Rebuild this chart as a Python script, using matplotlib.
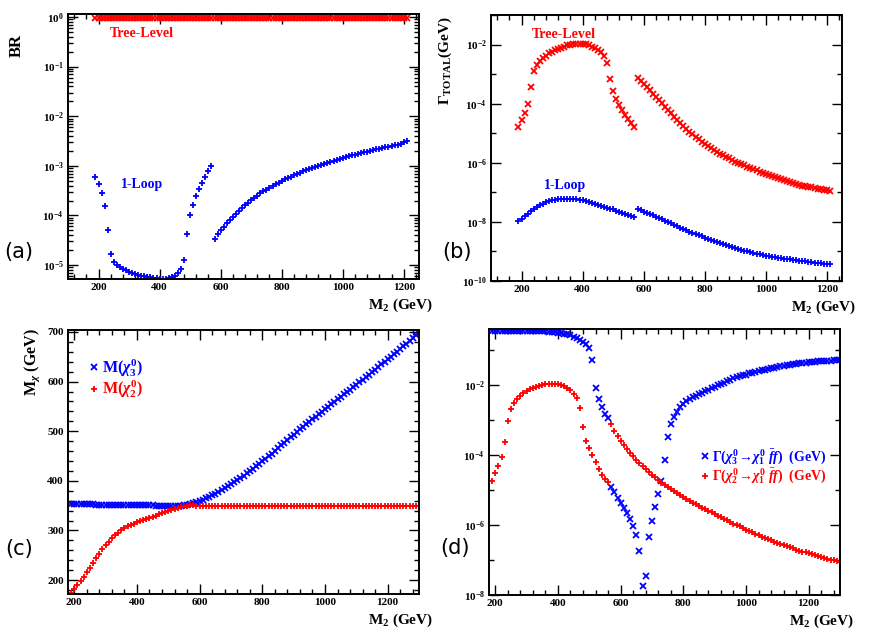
import numpy as np
import matplotlib
matplotlib.use("Agg")
import matplotlib.pyplot as plt
from matplotlib.ticker import (MultipleLocator, LogLocator, FixedLocator,
                               FuncFormatter, NullFormatter)

plt.rcParams['font.family'] = ['Liberation Serif', 'DejaVu Serif']
plt.rcParams['font.weight'] = 'bold'
plt.rcParams['mathtext.fontset'] = 'custom'
plt.rcParams['mathtext.rm'] = 'Liberation Serif:bold'
plt.rcParams['mathtext.it'] = 'Liberation Serif:italic:bold'
plt.rcParams['mathtext.bf'] = 'Liberation Serif:bold'

RED = '#ff0000'
BLUE = '#0000ff'

# M2 grids (GeV)
m2_ab = np.arange(190, 1220, 10)
m2_cd = np.arange(190, 1310, 10)

# (a) branching ratio, tree level and 1-loop (1-loop stored as log10)
br_tree = [
    0.97, 0.97, 0.97, 0.97, 0.97, 0.97, 0.97, 0.97, 0.97, 0.97, 0.97, 0.97, 0.97,
    0.97, 0.97, 0.97, 0.97, 0.97, 0.97, 0.97, 0.97, 0.97, 0.97, 0.97, 0.97, 0.97,
    0.97, 0.97, 0.97, 0.97, 0.97, 0.97, 0.97, 0.97, 0.97, 0.97, 0.97, 0.97, 0.97,
    0.97, 0.97, 0.97, 0.97, 0.97, 0.97, 0.97, 0.97, 0.97, 0.97, 0.97, 0.97, 0.97,
    0.97, 0.97, 0.97, 0.97, 0.97, 0.97, 0.97, 0.97, 0.97, 0.97, 0.97, 0.97, 0.97,
    0.97, 0.97, 0.97, 0.97, 0.97, 0.97, 0.97, 0.97, 0.97, 0.97, 0.97, 0.97, 0.97,
    0.97, 0.97, 0.97, 0.97, 0.97, 0.97, 0.97, 0.97, 0.97, 0.97, 0.97, 0.97, 0.97,
    0.97, 0.97, 0.97, 0.97, 0.97, 0.97, 0.97, 0.97, 0.97, 0.97, 0.97, 0.97]
br_loop_log = [
    -3.23, -3.37, -3.55, -3.81, -4.29, -4.78, -4.93, -5.00, -5.03, -5.07,
    -5.10, -5.13, -5.15, -5.17, -5.19, -5.21, -5.22, -5.23, -5.24, -5.25,
    -5.26, -5.27, -5.27, -5.27, -5.26, -5.24, -5.21, -5.16, -5.08, -4.89,
    -4.38, -4.00, -3.78, -3.61, -3.46, -3.34, -3.22, -3.11, -3.00,
    -4.48, -4.38, -4.30, -4.23, -4.16, -4.09, -4.03, -3.96, -3.90, -3.85,
    -3.79, -3.74, -3.69, -3.64, -3.60, -3.55, -3.51, -3.48, -3.44, -3.40,
    -3.37, -3.34, -3.30, -3.27, -3.24, -3.22, -3.19, -3.16, -3.14, -3.11,
    -3.09, -3.06, -3.04, -3.02, -3.00, -2.98, -2.96, -2.94, -2.92, -2.90,
    -2.88, -2.86, -2.84, -2.83, -2.81, -2.79, -2.78, -2.76, -2.75, -2.73,
    -2.72, -2.70, -2.69, -2.67, -2.66, -2.64, -2.63, -2.61, -2.60, -2.58,
    -2.57, -2.55, -2.52, -2.50]

# (b) total width (GeV), log10
gam_tree_log = [
    -4.78, -4.56, -4.31, -4.01, -3.44, -2.90, -2.68, -2.55, -2.45, -2.37,
    -2.30, -2.25, -2.19, -2.15, -2.10, -2.07, -2.03, -2.01, -1.99, -1.98,
    -1.97, -1.98, -1.99, -2.02, -2.07, -2.12, -2.18, -2.26, -2.40, -2.61,
    -3.16, -3.57, -3.84, -4.04, -4.22, -4.38, -4.52, -4.67, -4.80,
    -3.12, -3.22, -3.33, -3.44, -3.55, -3.66, -3.77, -3.88, -3.99, -4.10,
    -4.22, -4.33, -4.44, -4.54, -4.65, -4.75, -4.85, -4.95, -5.04, -5.13,
    -5.21, -5.29, -5.37, -5.44, -5.50, -5.57, -5.63, -5.69, -5.74, -5.80,
    -5.85, -5.90, -5.96, -6.01, -6.05, -6.09, -6.14, -6.18, -6.22, -6.26,
    -6.30, -6.34, -6.38, -6.42, -6.46, -6.49, -6.52, -6.56, -6.59, -6.62,
    -6.65, -6.68, -6.71, -6.74, -6.77, -6.79, -6.81, -6.83, -6.85, -6.87,
    -6.89, -6.91, -6.93, -6.95]
gam_loop_log = [
    -7.98, -7.90, -7.80, -7.72, -7.64, -7.56, -7.49, -7.43, -7.38, -7.34,
    -7.30, -7.27, -7.25, -7.24, -7.23, -7.22, -7.22, -7.22, -7.23, -7.24,
    -7.25, -7.27, -7.30, -7.33, -7.36, -7.39, -7.42, -7.45, -7.49, -7.52,
    -7.55, -7.58, -7.62, -7.66, -7.70, -7.73, -7.76, -7.79, -7.82,
    -7.56, -7.61, -7.65, -7.69, -7.73, -7.78, -7.82, -7.86, -7.91, -7.96,
    -8.01, -8.05, -8.10, -8.14, -8.19, -8.24, -8.28, -8.33, -8.37, -8.41,
    -8.45, -8.49, -8.53, -8.57, -8.61, -8.65, -8.69, -8.72, -8.76, -8.79,
    -8.83, -8.86, -8.89, -8.92, -8.95, -8.97, -9.00, -9.02, -9.05, -9.07,
    -9.09, -9.12, -9.14, -9.16, -9.18, -9.19, -9.21, -9.22, -9.24, -9.25,
    -9.27, -9.28, -9.30, -9.31, -9.33, -9.34, -9.35, -9.37, -9.38, -9.39,
    -9.40, -9.41, -9.42, -9.43]

# (c) neutralino masses (GeV)
m_chi3 = [
    353, 353, 353, 353, 353, 353, 353, 353, 352, 352,
    352, 352, 352, 352, 352, 352, 352, 352, 351, 351,
    351, 351, 351, 351, 351, 351, 351, 350, 350, 350,
    350, 350, 350, 350, 350, 350, 351, 352,
    353, 355, 357, 359, 362, 365, 368, 371, 374, 377,
    381, 385, 389, 393, 397, 402, 406, 410, 415, 419,
    424, 429, 434, 439, 445, 450, 455, 461, 466, 472,
    477, 483, 488, 493, 499, 504, 509, 514, 519, 524,
    529, 534, 539, 544, 549, 554, 559, 564, 569, 574,
    579, 584, 589, 594, 599, 604, 609, 614, 619, 624,
    630, 635, 640, 645, 650, 655, 660, 665, 671, 676,
    682, 687, 693, 698]
m_chi2 = [
    174, 183, 191, 199, 207, 216, 225, 234, 244, 253,
    262, 270, 277, 284, 290, 295, 300, 304, 308, 311,
    314, 317, 319, 321, 323, 326, 328, 330, 333, 335,
    337, 339, 342, 344, 346, 347, 349, 350, 351, 351,
    350, 350, 350, 350, 350, 350, 350, 350, 350, 350,
    350, 350, 350, 350, 350, 350, 350, 350, 350, 350,
    350, 350, 350, 350, 350, 350, 350, 350, 350, 350,
    350, 350, 349, 349, 349, 349, 349, 349, 349, 349,
    349, 349, 349, 349, 349, 349, 349, 349, 349, 349,
    349, 349, 349, 349, 349, 349, 349, 349, 349, 349,
    349, 349, 349, 349, 349, 349, 349, 349, 349, 349,
    349, 349]

# (d) partial widths (GeV), log10
gam3_log = [
    -0.45, -0.45, -0.45, -0.45, -0.45, -0.45, -0.45, -0.45, -0.45, -0.45,
    -0.45, -0.45, -0.46, -0.46, -0.46, -0.46, -0.46, -0.47, -0.48, -0.48,
    -0.49, -0.50, -0.51, -0.53, -0.55, -0.58, -0.62, -0.66, -0.71, -0.77,
    -0.83, -0.93, -1.28, -2.08, -2.40, -2.63, -2.83, -2.95,
    -4.90, -5.06, -5.22, -5.36, -5.50, -5.65, -5.83, -6.03, -6.29, -6.75,
    -7.73, -7.47, -6.35, -5.88, -5.49, -5.12, -4.73, -4.15, -3.48, -3.10,
    -2.92, -2.77, -2.64,
    -2.54, -2.46, -2.40, -2.35, -2.30, -2.26, -2.22, -2.17, -2.13, -2.09,
    -2.05, -2.01, -1.97, -1.93, -1.89, -1.85, -1.81, -1.78, -1.75, -1.72,
    -1.70, -1.67, -1.65, -1.63, -1.60, -1.58, -1.56, -1.54, -1.52, -1.50,
    -1.49, -1.47, -1.46, -1.44, -1.43, -1.41, -1.40, -1.38, -1.37, -1.36,
    -1.35, -1.34, -1.33, -1.32, -1.32, -1.31, -1.30, -1.30, -1.29, -1.29,
    -1.28]
gam2_log = [
    -4.75, -4.52, -4.32, -4.05, -3.62, -3.03, -2.68, -2.52, -2.41, -2.31,
    -2.24, -2.18, -2.12, -2.08, -2.05, -2.02, -2.00, -1.98, -1.97, -1.96,
    -1.96, -1.97, -1.99, -2.02, -2.08, -2.15, -2.25, -2.38, -2.65, -3.20,
    -3.60, -3.81, -4.00, -4.20, -4.40, -4.56, -4.68, -4.78,
    -3.12, -3.30, -3.45, -3.59, -3.72, -3.83, -3.94, -4.04, -4.14, -4.24,
    -4.32, -4.40, -4.48, -4.56, -4.64, -4.72, -4.79, -4.86, -4.92, -4.98,
    -5.04, -5.09, -5.15, -5.20, -5.25, -5.31, -5.36, -5.41, -5.46, -5.51,
    -5.55, -5.60, -5.64, -5.69, -5.73, -5.78, -5.82, -5.87, -5.91, -5.96,
    -6.00, -6.04, -6.08, -6.13, -6.17, -6.21, -6.25, -6.29, -6.33, -6.37,
    -6.40, -6.44, -6.48, -6.51, -6.55, -6.58, -6.61, -6.64, -6.67, -6.70,
    -6.73, -6.76, -6.78, -6.81, -6.84, -6.86, -6.89, -6.91, -6.94, -6.96,
    -6.99, -7.01, -7.04, -7.06]


def powLabel(v, pos):
    return r'$10^{%d}$' % int(round(np.log10(v)))


def styleAxes(ax):
    ax.tick_params(which='both', direction='in', top=True, right=True,
                   labelsize=8, width=1.0, pad=3)
    ax.tick_params(which='major', length=7)
    ax.tick_params(which='minor', length=3.5)
    for s in ax.spines.values():
        s.set_linewidth(1.4)


def m2Label(ax):
    ax.text(1.04, -0.1, r'M$_2$ (GeV)', transform=ax.transAxes,
            ha='right', va='center', fontsize=11)


def twoDecadeTicks(ax):
    ax.yaxis.set_major_locator(FixedLocator(10.0 ** np.arange(-10, 1, 2)))
    ax.yaxis.set_minor_locator(FixedLocator(10.0 ** np.arange(-11, 1, 2)))
    ax.yaxis.set_major_formatter(FuncFormatter(powLabel))
    ax.yaxis.set_minor_formatter(NullFormatter())


fig = plt.figure(figsize=(8.72, 6.42), dpi=100)
ax_a = fig.add_axes([0.078, 0.5654, 0.4025, 0.4128])
ax_b = fig.add_axes([0.5631, 0.5623, 0.4025, 0.4143])
ax_c = fig.add_axes([0.078, 0.0748, 0.4025, 0.4112])
ax_d = fig.add_axes([0.5608, 0.0732, 0.4025, 0.4143])

mk = dict(ls='none', markersize=5, markeredgewidth=1.3)

# (a)
ax_a.plot(m2_ab, br_tree, marker='x', color=RED, **mk)
ax_a.plot(m2_ab, 10.0 ** np.array(br_loop_log), marker='+', color=BLUE, **mk)
ax_a.set_yscale('log')
ax_a.set_xlim(100, 1250)
ax_a.set_ylim(10 ** -5.28, 10 ** 0.06)
ax_a.yaxis.set_major_locator(LogLocator(base=10, numticks=10))
ax_a.yaxis.set_minor_locator(LogLocator(base=10, subs=np.arange(2, 10), numticks=20))
ax_a.yaxis.set_major_formatter(FuncFormatter(powLabel))
ax_a.yaxis.set_minor_formatter(NullFormatter())
ax_a.text(236, 10 ** -0.33, 'Tree-Level', color=RED, fontsize=10, va='center')
ax_a.text(275, 10 ** -3.37, '1-Loop', color=BLUE, fontsize=10, va='center')
ax_a.text(-0.145, 0.883, 'BR', transform=ax_a.transAxes, rotation=90,
          ha='center', va='center', fontsize=12)

# (b)
ax_b.plot(m2_ab, 10.0 ** np.array(gam_tree_log), marker='x', color=RED, **mk)
ax_b.plot(m2_ab, 10.0 ** np.array(gam_loop_log), marker='+', color=BLUE, **mk)
ax_b.set_yscale('log')
ax_b.set_xlim(100, 1250)
ax_b.set_ylim(1e-10, 1e-1)
twoDecadeTicks(ax_b)
ax_b.text(235, 10 ** -1.66, 'Tree-Level', color=RED, fontsize=10, va='center')
ax_b.text(272, 10 ** -6.78, '1-Loop', color=BLUE, fontsize=10, va='center')
ax_b.text(-0.131, 0.83, r'$\Gamma_{\rm TOTAL}$(GeV)', transform=ax_b.transAxes,
          rotation=90, ha='center', va='center', fontsize=11)

# (c)
hc3, = ax_c.plot(m2_cd, m_chi3, marker='x', color=BLUE, **mk)
hc2, = ax_c.plot(m2_cd, m_chi2, marker='+', color=RED, **mk)
ax_c.set_xlim(180, 1300)
ax_c.set_ylim(172, 704)
ax_c.yaxis.set_major_locator(MultipleLocator(100))
ax_c.yaxis.set_minor_locator(MultipleLocator(20))
ax_c.legend([hc3, hc2], [r'M($\chi^0_3$)', r'M($\chi^0_2$)'],
            loc='upper left', bbox_to_anchor=(0.043, 0.92), borderaxespad=0,
            frameon=False, handlelength=0.6, handletextpad=0.2,
            labelspacing=0.0, labelcolor='linecolor', fontsize=11.5,
            numpoints=1, markerscale=0.8)
ax_c.text(-0.103, 0.879, r'M$_\chi$ (GeV)', transform=ax_c.transAxes,
          rotation=90, ha='center', va='center', fontsize=11.5)

# (d)
hd3, = ax_d.plot(m2_cd, 10.0 ** np.array(gam3_log), marker='x', color=BLUE, **mk)
hd2, = ax_d.plot(m2_cd, 10.0 ** np.array(gam2_log), marker='+', color=RED, **mk)
ax_d.set_yscale('log')
ax_d.set_xlim(180, 1300)
ax_d.set_ylim(1e-8, 10 ** -0.4)
twoDecadeTicks(ax_d)
ax_d.legend([hd3, hd2],
            [r'$\Gamma(\chi^0_3\!\rightarrow\!\chi^0_1\ \bar{f}f)$  (GeV)',
             r'$\Gamma(\chi^0_2\!\rightarrow\!\chi^0_1\ \bar{f}f)$  (GeV)'],
            loc='upper left', bbox_to_anchor=(0.587, 0.577), borderaxespad=0,
            frameon=False, handlelength=0.6, handletextpad=0.2,
            labelspacing=0.0, labelcolor='linecolor', fontsize=10,
            numpoints=1, markerscale=0.8)

for ax in (ax_a, ax_b, ax_c, ax_d):
    ax.xaxis.set_major_locator(MultipleLocator(200))
    ax.xaxis.set_minor_locator(MultipleLocator(40))
    styleAxes(ax)
    m2Label(ax)

for lab, x, y in (('(a)', 0.0218, 0.6075), ('(b)', 0.524, 0.6075),
                  ('(c)', 0.0218, 0.145), ('(d)', 0.522, 0.146)):
    fig.text(x, y, lab, fontsize=15, family='DejaVu Sans', weight='normal',
             ha='center', va='center')

fig.savefig('out.png', dpi=100)
